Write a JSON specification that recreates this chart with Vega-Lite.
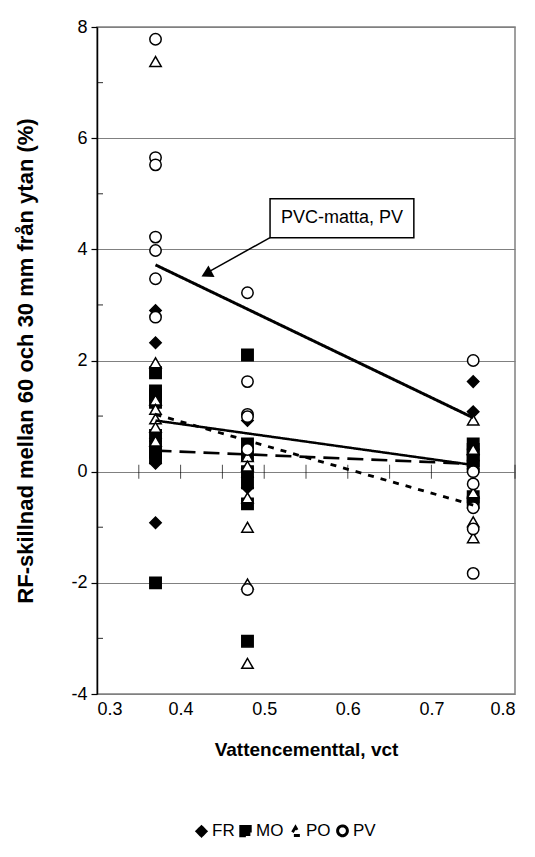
{
  "$schema": "https://vega.github.io/schema/vega-lite/v6.json",
  "autosize": {"type": "none"},
  "padding": {"left": 97, "top": 27, "right": 20, "bottom": 163},
  "width": 418,
  "height": 667,
  "background": "white",
  "config": {
    "font": "Liberation Sans",
    "view": {"stroke": "#808080", "strokeWidth": 1.5},
    "axis": {"labelFont": "Liberation Sans", "titleFont": "Liberation Sans", "labelColor": "black", "titleColor": "black"}
  },
  "datasets": {
    "pts": [
      {"s": "FR", "x": 0.37, "y": 2.9}, {"s": "FR", "x": 0.37, "y": 2.32}, {"s": "FR", "x": 0.37, "y": 1.2}, {"s": "FR", "x": 0.37, "y": 0.6}, {"s": "FR", "x": 0.37, "y": 0.15}, {"s": "FR", "x": 0.37, "y": -0.92},
      {"s": "FR", "x": 0.48, "y": 0.92}, {"s": "FR", "x": 0.48, "y": 0.05}, {"s": "FR", "x": 0.48, "y": -0.1}, {"s": "FR", "x": 0.48, "y": -0.29},
      {"s": "FR", "x": 0.75, "y": 1.62}, {"s": "FR", "x": 0.75, "y": 1.08}, {"s": "FR", "x": 0.75, "y": 0.05},
      {"s": "MO", "x": 0.37, "y": 1.78}, {"s": "MO", "x": 0.37, "y": 1.45}, {"s": "MO", "x": 0.37, "y": 1.38}, {"s": "MO", "x": 0.37, "y": 1.25}, {"s": "MO", "x": 0.37, "y": 0.65}, {"s": "MO", "x": 0.37, "y": 0.45}, {"s": "MO", "x": 0.37, "y": 0.35}, {"s": "MO", "x": 0.37, "y": 0.25}, {"s": "MO", "x": 0.37, "y": -2.0},
      {"s": "MO", "x": 0.48, "y": 2.1}, {"s": "MO", "x": 0.48, "y": 0.5}, {"s": "MO", "x": 0.48, "y": 0.3}, {"s": "MO", "x": 0.48, "y": 0.0}, {"s": "MO", "x": 0.48, "y": -0.2}, {"s": "MO", "x": 0.48, "y": -0.58}, {"s": "MO", "x": 0.48, "y": -3.05},
      {"s": "MO", "x": 0.75, "y": 0.5}, {"s": "MO", "x": 0.75, "y": 0.4}, {"s": "MO", "x": 0.75, "y": 0.3}, {"s": "MO", "x": 0.75, "y": 0.2}, {"s": "MO", "x": 0.75, "y": 0.1}, {"s": "MO", "x": 0.75, "y": -0.45}, {"s": "MO", "x": 0.75, "y": -0.55},
      {"s": "PO", "x": 0.37, "y": 7.38}, {"s": "PO", "x": 0.37, "y": 1.96}, {"s": "PO", "x": 0.37, "y": 1.29}, {"s": "PO", "x": 0.37, "y": 1.12}, {"s": "PO", "x": 0.37, "y": 0.95}, {"s": "PO", "x": 0.37, "y": 0.8}, {"s": "PO", "x": 0.37, "y": 0.55},
      {"s": "PO", "x": 0.48, "y": 0.27}, {"s": "PO", "x": 0.48, "y": 0.1}, {"s": "PO", "x": 0.48, "y": -0.47}, {"s": "PO", "x": 0.48, "y": -1.0}, {"s": "PO", "x": 0.48, "y": -2.02}, {"s": "PO", "x": 0.48, "y": -3.45},
      {"s": "PO", "x": 0.75, "y": 0.93}, {"s": "PO", "x": 0.75, "y": 0.4}, {"s": "PO", "x": 0.75, "y": -0.38}, {"s": "PO", "x": 0.75, "y": -0.9}, {"s": "PO", "x": 0.75, "y": -1.19},
      {"s": "PV", "x": 0.37, "y": 7.78}, {"s": "PV", "x": 0.37, "y": 5.65}, {"s": "PV", "x": 0.37, "y": 5.52}, {"s": "PV", "x": 0.37, "y": 4.22}, {"s": "PV", "x": 0.37, "y": 3.98}, {"s": "PV", "x": 0.37, "y": 3.47}, {"s": "PV", "x": 0.37, "y": 2.78},
      {"s": "PV", "x": 0.48, "y": 3.22}, {"s": "PV", "x": 0.48, "y": 1.62}, {"s": "PV", "x": 0.48, "y": 1.03}, {"s": "PV", "x": 0.48, "y": 0.99}, {"s": "PV", "x": 0.48, "y": 0.4}, {"s": "PV", "x": 0.48, "y": -2.12},
      {"s": "PV", "x": 0.75, "y": 2.0}, {"s": "PV", "x": 0.75, "y": 0.0}, {"s": "PV", "x": 0.75, "y": -0.22}, {"s": "PV", "x": 0.75, "y": -0.65}, {"s": "PV", "x": 0.75, "y": -1.03}, {"s": "PV", "x": 0.75, "y": -1.83}
    ],
    "trend": [
      {"s": "FR", "x": 0.37, "y": 0.92}, {"s": "FR", "x": 0.75, "y": 0.12},
      {"s": "MO", "x": 0.37, "y": 0.38}, {"s": "MO", "x": 0.75, "y": 0.14},
      {"s": "PO", "x": 0.37, "y": 1.03}, {"s": "PO", "x": 0.75, "y": -0.6},
      {"s": "PV", "x": 0.37, "y": 3.72}, {"s": "PV", "x": 0.75, "y": 0.97}
    ],
    "xticks": [{"x": 0.35}, {"x": 0.4}, {"x": 0.45}, {"x": 0.5}, {"x": 0.55}, {"x": 0.6}, {"x": 0.65}, {"x": 0.7}, {"x": 0.75}, {"x": 0.8}],
    "yminor": [{"y": -3}, {"y": -1}, {"y": 1}, {"y": 3}, {"y": 5}, {"y": 7}],
    "box": [{"x": 0.507, "x2": 0.679, "y": 4.21, "y2": 4.91, "label": "PVC-matta, PV", "tx": 0.593, "ty": 4.56}],
    "arrow": [{"x": 0.507, "y": 4.21, "x2": 0.434, "y2": 3.6}],
    "head": [{"x": 0.431, "y": 3.56}]
  },
  "layer": [
    {
      "data": {"name": "xticks"},
      "mark": {"type": "tick", "orient": "vertical", "color": "black", "size": 14, "thickness": 1},
      "encoding": {
        "x": {"field": "x", "type": "quantitative", "scale": {"domain": [0.3, 0.8], "nice": false, "zero": false},
          "axis": {"title": "Vattencementtal, vct", "values": [0.3, 0.4, 0.5, 0.6, 0.7, 0.8], "format": ".1f", "domain": false, "ticks": false, "grid": false, "labelFontSize": 18, "labelPadding": 6, "titleFontSize": 19, "titleFontWeight": "bold", "titlePadding": 22}},
        "y": {"datum": 0, "type": "quantitative", "scale": {"domain": [-4, 8], "nice": false, "zero": false},
          "axis": {"title": "RF-skillnad mellan 60 och 30 mm från ytan (%)", "values": [-4, -2, 0, 2, 4, 6, 8], "labelExpr": "'' + datum.value",
            "grid": true, "gridColor": "#808080", "gridWidth": 1.2, "tickSize": 6,
            "domainColor": "black", "domainWidth": 1.5, "tickColor": "black", "tickWidth": 1.2,
            "labelFontSize": 18, "labelPadding": 4, "titleFontSize": 22, "titleFontWeight": "bold", "titlePadding": 33}}
      }
    },
    {
      "data": {"name": "yminor"},
      "mark": {"type": "tick", "orient": "horizontal", "color": "black", "size": 6, "thickness": 1.2, "xOffset": 3},
      "encoding": {
        "x": {"datum": 0.3, "type": "quantitative"},
        "y": {"field": "y", "type": "quantitative"}
      }
    },
    {
      "data": {"name": "pts"},
      "mark": {"type": "point", "filled": true, "strokeWidth": 1.5, "opacity": 1, "size": 130},
      "encoding": {
        "x": {"field": "x", "type": "quantitative"},
        "y": {"field": "y", "type": "quantitative"},
        "shape": {"field": "s", "type": "nominal", "scale": {"domain": ["FR", "MO", "PO", "PV"], "range": ["diamond", "square", "triangle-up", "circle"]},
          "legend": {"title": null, "orient": "none", "legendX": 96, "legendY": 795, "direction": "horizontal", "labelFontSize": 17, "labelFont": "Liberation Sans", "labelColor": "black", "symbolSize": 95, "symbolStrokeWidth": 1, "columnPadding": 0, "labelOffset": 2}},
        "fill": {"field": "s", "type": "nominal", "scale": {"domain": ["FR", "MO", "PO", "PV"], "range": ["black", "black", "white", "white"]},
          "legend": {"title": null, "orient": "none", "legendX": 96, "legendY": 795, "direction": "horizontal", "labelFontSize": 17, "labelFont": "Liberation Sans", "labelColor": "black", "symbolSize": 95, "symbolStrokeWidth": 1, "columnPadding": 0, "labelOffset": 2}},
        "stroke": {"field": "s", "type": "nominal", "scale": {"domain": ["FR", "MO", "PO", "PV"], "range": ["black", "black", "black", "black"]},
          "legend": {"title": null, "orient": "none", "legendX": 96, "legendY": 795, "direction": "horizontal", "labelFontSize": 17, "labelFont": "Liberation Sans", "labelColor": "black", "symbolSize": 95, "symbolStrokeWidth": 1, "columnPadding": 0, "labelOffset": 2}}
      }
    },
    {
      "data": {"name": "trend"},
      "mark": {"type": "line", "color": "black"},
      "encoding": {
        "x": {"field": "x", "type": "quantitative"},
        "y": {"field": "y", "type": "quantitative"},
        "detail": {"field": "s", "type": "nominal"},
        "strokeDash": {"field": "s", "type": "nominal", "scale": {"domain": ["FR", "MO", "PO", "PV"], "range": [[1, 0], [16, 8], [6, 7], [1, 0]]}, "legend": null},
        "strokeWidth": {"field": "s", "type": "nominal", "scale": {"domain": ["FR", "MO", "PO", "PV"], "range": [2.5, 3, 3, 4.5]}, "legend": null}
      }
    },
    {
      "data": {"name": "arrow"},
      "mark": {"type": "rule", "color": "black", "strokeWidth": 1.5},
      "encoding": {
        "x": {"field": "x", "type": "quantitative"},
        "y": {"field": "y", "type": "quantitative"},
        "x2": {"field": "x2"},
        "y2": {"field": "y2"}
      }
    },
    {
      "data": {"name": "head"},
      "mark": {"type": "point", "shape": "triangle-up", "filled": true, "color": "black", "size": 170, "angle": 242, "opacity": 1},
      "encoding": {
        "x": {"field": "x", "type": "quantitative"},
        "y": {"field": "y", "type": "quantitative"}
      }
    },
    {
      "data": {"name": "box"},
      "mark": {"type": "rect", "fill": "white", "stroke": "black", "strokeWidth": 1.5},
      "encoding": {
        "x": {"field": "x", "type": "quantitative"},
        "x2": {"field": "x2"},
        "y": {"field": "y", "type": "quantitative"},
        "y2": {"field": "y2"}
      }
    },
    {
      "data": {"name": "box"},
      "mark": {"type": "text", "font": "Liberation Sans", "fontSize": 18, "color": "black", "align": "center", "baseline": "middle"},
      "encoding": {
        "x": {"field": "tx", "type": "quantitative"},
        "y": {"field": "ty", "type": "quantitative"},
        "text": {"field": "label"}
      }
    }
  ]
}
